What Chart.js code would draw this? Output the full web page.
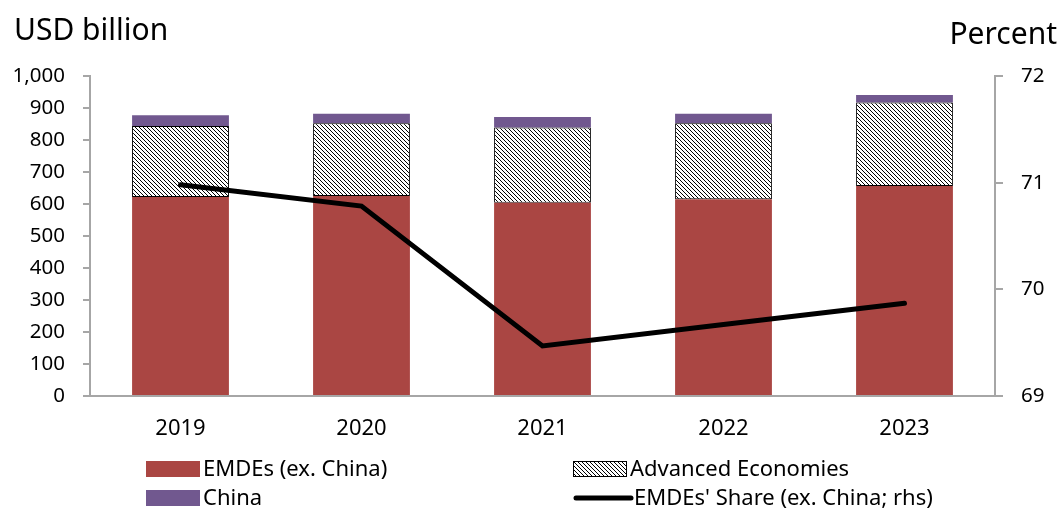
<!DOCTYPE html>
<html>
<head>
  <title>EMDEs share</title>
  <style>
    html, body { margin: 0; padding: 0; background: #fff; }
    #wrap { width: 1060px; height: 510px; position: relative; }
  </style>
</head>
<body>
  <div id="wrap"><canvas id="chart" width="1060" height="510"></canvas></div>

  <script src="https://cdn.jsdelivr.net/npm/chart.js"></script>
  <script>
    const years = ['2019', '2020', '2021', '2022', '2023'];
    const emdes = [622, 625, 604, 615, 656];
    const advanced = [222, 227, 235, 237, 261];
    const china = [33, 30, 33, 30, 24];
    const share = [70.98, 70.78, 69.47, 69.67, 69.87];
    const leftTicks = [0, 100, 200, 300, 400, 500, 600, 700, 800, 900, 1000];
    const rightTicks = [69, 70, 71, 72];

    const FONT = '"Noto Sans", "Open Sans", sans-serif';
    const RED = '#AA4643';
    const PURPLE = '#71588F';
    const AXIS = '#a6a6a6';

    // hatch pattern for the advanced economies bars
    function makeHatch() {
      const c = document.createElement('canvas');
      c.width = 4; c.height = 4;
      const g = c.getContext('2d');
      g.fillStyle = '#fff';
      g.fillRect(0, 0, 4, 4);
      g.fillStyle = '#000';
      for (let i = 0; i < 4; i++) g.fillRect(i, i, 1, 1);
      return g.createPattern(c, 'repeat');
    }
    const hatch = makeHatch();

    // axis titles and the legend
    const extras = {
      id: 'extras',
      afterDraw(chart) {
        const ctx = chart.ctx;
        ctx.save();
        ctx.fillStyle = '#000';
        ctx.textBaseline = 'middle';
        ctx.font = '30px ' + FONT;
        ctx.textAlign = 'left';
        ctx.fillText('USD billion', 14, 31);
        ctx.textAlign = 'right';
        ctx.fillText('Percent', 1057, 35);

        ctx.font = '22px ' + FONT;
        ctx.textAlign = 'left';
        const items = [
          { x: 146, y: 469, type: 'box', fill: RED, text: 'EMDEs (ex. China)' },
          { x: 573, y: 469, type: 'box', fill: hatch, text: 'Advanced Economies', border: true },
          { x: 146, y: 498, type: 'box', fill: PURPLE, text: 'China' },
          { x: 573, y: 498, type: 'line', text: "EMDEs' Share (ex. China; rhs)" }
        ];
        items.forEach(it => {
          if (it.type === 'box') {
            ctx.fillStyle = it.fill;
            ctx.fillRect(it.x, it.y - 8, 54, 16);
            if (it.border) {
              ctx.strokeStyle = '#000';
              ctx.lineWidth = 1;
              ctx.strokeRect(it.x + 0.5, it.y - 7.5, 53, 15);
            }
          } else {
            ctx.strokeStyle = '#000';
            ctx.lineWidth = 5;
            ctx.lineCap = 'round';
            ctx.beginPath();
            ctx.moveTo(it.x + 3, it.y);
            ctx.lineTo(it.x + 58, it.y);
            ctx.stroke();
          }
          ctx.fillStyle = '#000';
          ctx.fillText(it.text, it.x + (it.type === 'line' ? 61 : 57), it.y + 1);
        });
        ctx.restore();
      }
    };

    new Chart(document.getElementById('chart'), {
      data: {
        labels: years,
        datasets: [
          {
            type: 'line',
            label: "EMDEs' Share (ex. China; rhs)",
            data: share,
            yAxisID: 'y2',
            borderColor: '#000',
            borderWidth: 5,
            borderCapStyle: 'round',
            pointRadius: 0,
            tension: 0,
            order: 0
          },
          {
            type: 'bar',
            label: 'EMDEs (ex. China)',
            data: emdes,
            backgroundColor: RED,
            stack: 's',
            order: 1,
            barPercentage: 0.535,
            categoryPercentage: 1
          },
          {
            type: 'bar',
            label: 'Advanced Economies',
            data: advanced,
            backgroundColor: hatch,
            borderColor: '#000',
            borderWidth: 1,
            borderSkipped: false,
            stack: 's',
            order: 1,
            barPercentage: 0.535,
            categoryPercentage: 1
          },
          {
            type: 'bar',
            label: 'China',
            data: china,
            backgroundColor: PURPLE,
            stack: 's',
            order: 1,
            barPercentage: 0.535,
            categoryPercentage: 1
          }
        ]
      },
      options: {
        responsive: false,
        animation: false,
        layout: { padding: { top: 76, left: 0, right: 0, bottom: 0 } },
        plugins: {
          legend: { display: false },
          tooltip: { enabled: false }
        },
        scales: {
          x: {
            stacked: true,
            grid: { display: false, drawTicks: false },
            border: { color: AXIS, width: 2 },
            ticks: { color: '#000', font: { family: FONT, size: 22 }, padding: 20 },
            afterFit: s => { s.height = 114; }
          },
          y: {
            stacked: true,
            position: 'left',
            min: 0,
            max: 1000,
            afterBuildTicks: s => { s.ticks = leftTicks.map(v => ({ value: v })); },
            grid: { drawOnChartArea: false, drawTicks: true, tickLength: 7, color: AXIS, lineWidth: 2 },
            border: { color: AXIS, width: 2 },
            ticks: {
              color: '#000',
              font: { family: FONT, size: 20.5 },
              padding: 18,
              callback: v => v.toLocaleString('en-US')
            },
            afterFit: s => { s.width = 90; }
          },
          y2: {
            position: 'right',
            min: 69,
            max: 72,
            afterBuildTicks: s => { s.ticks = rightTicks.map(v => ({ value: v })); },
            grid: { drawOnChartArea: false, drawTicks: true, tickLength: 8, color: AXIS, lineWidth: 2 },
            border: { color: AXIS, width: 2 },
            ticks: { color: '#000', font: { family: FONT, size: 20.5 }, padding: 18 },
            afterFit: s => { s.width = 65; }
          }
        }
      },
      plugins: [extras]
    });
  </script>
</body>
</html>
